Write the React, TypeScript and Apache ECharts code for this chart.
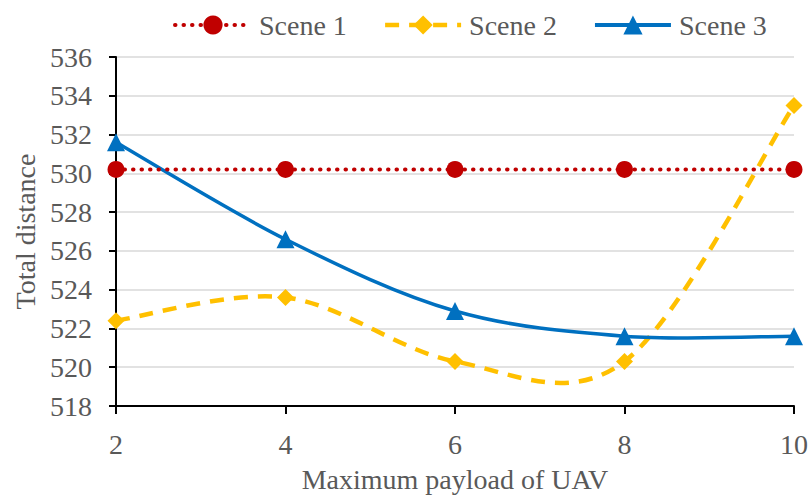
import React, { useEffect, useRef } from "react";
import * as echarts from "echarts";

const payloads = [2, 4, 6, 8, 10];
const scene1 = [530.2, 530.2, 530.2, 530.2, 530.2];
const scene2 = [522.4, 523.6, 520.3, 520.3, 533.5];
const scene3 = [531.6, 526.6, 522.9, 521.6, 521.6];
const seriesNames = ["Scene 1", "Scene 2", "Scene 3"];
const xTitle = "Maximum payload of UAV";
const yTitle = "Total distance";

const RED = "#C00000";
const YELLOW = "#FFC000";
const BLUE = "#0070C0";
const TEXT = "#595959";
const FONT = "'Liberation Serif', 'Times New Roman', serif";
const FS = 28;

function smoothPath(pts: number[][]): string {
  // Catmull-Rom -> cubic Bezier through the given pixel points
  let d = `M${pts[0][0]},${pts[0][1]}`;
  for (let i = 0; i < pts.length - 1; i++) {
    const p0 = pts[Math.max(0, i - 1)];
    const p1 = pts[i];
    const p2 = pts[i + 1];
    const p3 = pts[Math.min(pts.length - 1, i + 2)];
    const c1x = p1[0] + (p2[0] - p0[0]) / 6;
    const c1y = p1[1] + (p2[1] - p0[1]) / 6;
    const c2x = p2[0] - (p3[0] - p1[0]) / 6;
    const c2y = p2[1] - (p3[1] - p1[1]) / 6;
    d += ` C${c1x},${c1y} ${c2x},${c2y} ${p2[0]},${p2[1]}`;
  }
  return d;
}

function curveSeries(name: string, ys: number[], color: string, width: number, dash: number[] | null) {
  return {
    type: "custom",
    name,
    coordinateSystem: "cartesian2d",
    silent: true,
    data: payloads.map((x, i) => [x, ys[i]]),
    encode: { x: 0, y: 1 },
    renderItem: (params: any, api: any) => {
      if (params.dataIndex !== 0) return null;
      const pts = payloads.map((x, i) => api.coord([x, ys[i]]));
      return {
        type: "path",
        shape: { pathData: smoothPath(pts) },
        style: {
          fill: "none",
          stroke: color,
          lineWidth: width,
          lineDash: dash || undefined,
          lineCap: "butt",
        },
      };
    },
  };
}

export default function App() {
  const ref = useRef<HTMLDivElement>(null);
  useEffect(() => {
    if (!ref.current) return;
    const chart = echarts.init(ref.current, null, { renderer: "svg" });
    chart.setOption({
      animation: false,
      backgroundColor: "#ffffff",
      textStyle: { fontFamily: FONT },
      grid: { left: 116, right: 16, top: 57, bottom: 87, containLabel: false },
      legend: {
        top: 6,
        left: 168,
        itemWidth: 76,
        itemHeight: 24,
        itemGap: 36,
        textStyle: { color: TEXT, fontSize: FS, fontFamily: FONT, padding: [0, 0, 0, 3] },
        data: [
          { name: seriesNames[0], lineStyle: { width: 4 } },
          { name: seriesNames[1], lineStyle: { opacity: 1, width: 4.5 } },
          { name: seriesNames[2], lineStyle: { opacity: 1, width: 4 } },
        ],
      },
      xAxis: {
        type: "value",
        min: 2,
        max: 10,
        interval: 2,
        name: xTitle,
        nameLocation: "middle",
        nameGap: 59,
        nameTextStyle: { color: TEXT, fontSize: FS, fontFamily: FONT },
        axisLine: { lineStyle: { color: "#000000", width: 2 } },
        axisTick: { show: true, inside: false, length: 8, lineStyle: { color: "#000000", width: 2 } },
        axisLabel: { color: TEXT, fontSize: FS, fontFamily: FONT, margin: 24 },
        splitLine: { show: false },
      },
      yAxis: {
        type: "value",
        min: 518,
        max: 536,
        interval: 2,
        name: yTitle,
        nameLocation: "middle",
        nameGap: 75,
        nameRotate: 90,
        nameTextStyle: { color: TEXT, fontSize: FS, fontFamily: FONT },
        axisLine: { show: true, lineStyle: { color: "#000000", width: 2 } },
        axisTick: { show: true, inside: false, length: 7, lineStyle: { color: "#000000", width: 2 } },
        axisLabel: { color: TEXT, fontSize: FS, fontFamily: FONT, margin: 24 },
        splitLine: { show: true, lineStyle: { color: "#D9D9D9", width: 1.5 } },
      },
      series: [
        {
          type: "line",
          name: seriesNames[0],
          data: payloads.map((x, i) => [x, scene1[i]]),
          symbol: "circle",
          symbolSize: 17,
          itemStyle: { color: RED },
          lineStyle: { color: RED, width: 4, type: [0.5, 8], cap: "round" },
          z: 3,
        },
        curveSeries("Scene 2 curve", scene2, YELLOW, 4.5, [14, 10]),
        {
          type: "line",
          name: seriesNames[1],
          data: payloads.map((x, i) => [x, scene2[i]]),
          symbol: "diamond",
          symbolSize: 17,
          itemStyle: { color: YELLOW },
          lineStyle: { color: YELLOW, width: 4.5, type: [14, 10], opacity: 0 },
          z: 4,
        },
        curveSeries("Scene 3 curve", scene3, BLUE, 3.5, null),
        {
          type: "line",
          name: seriesNames[2],
          data: payloads.map((x, i) => [x, scene3[i]]),
          symbol: "triangle",
          symbolSize: 18,
          itemStyle: { color: BLUE },
          lineStyle: { color: BLUE, width: 3.5, type: "solid", opacity: 0 },
          z: 5,
        },
      ],
    });
    return () => chart.dispose();
  }, []);
  return <div ref={ref} style={{ width: 811, height: 498, position: "absolute", left: 0, top: 0 }} />;
}
